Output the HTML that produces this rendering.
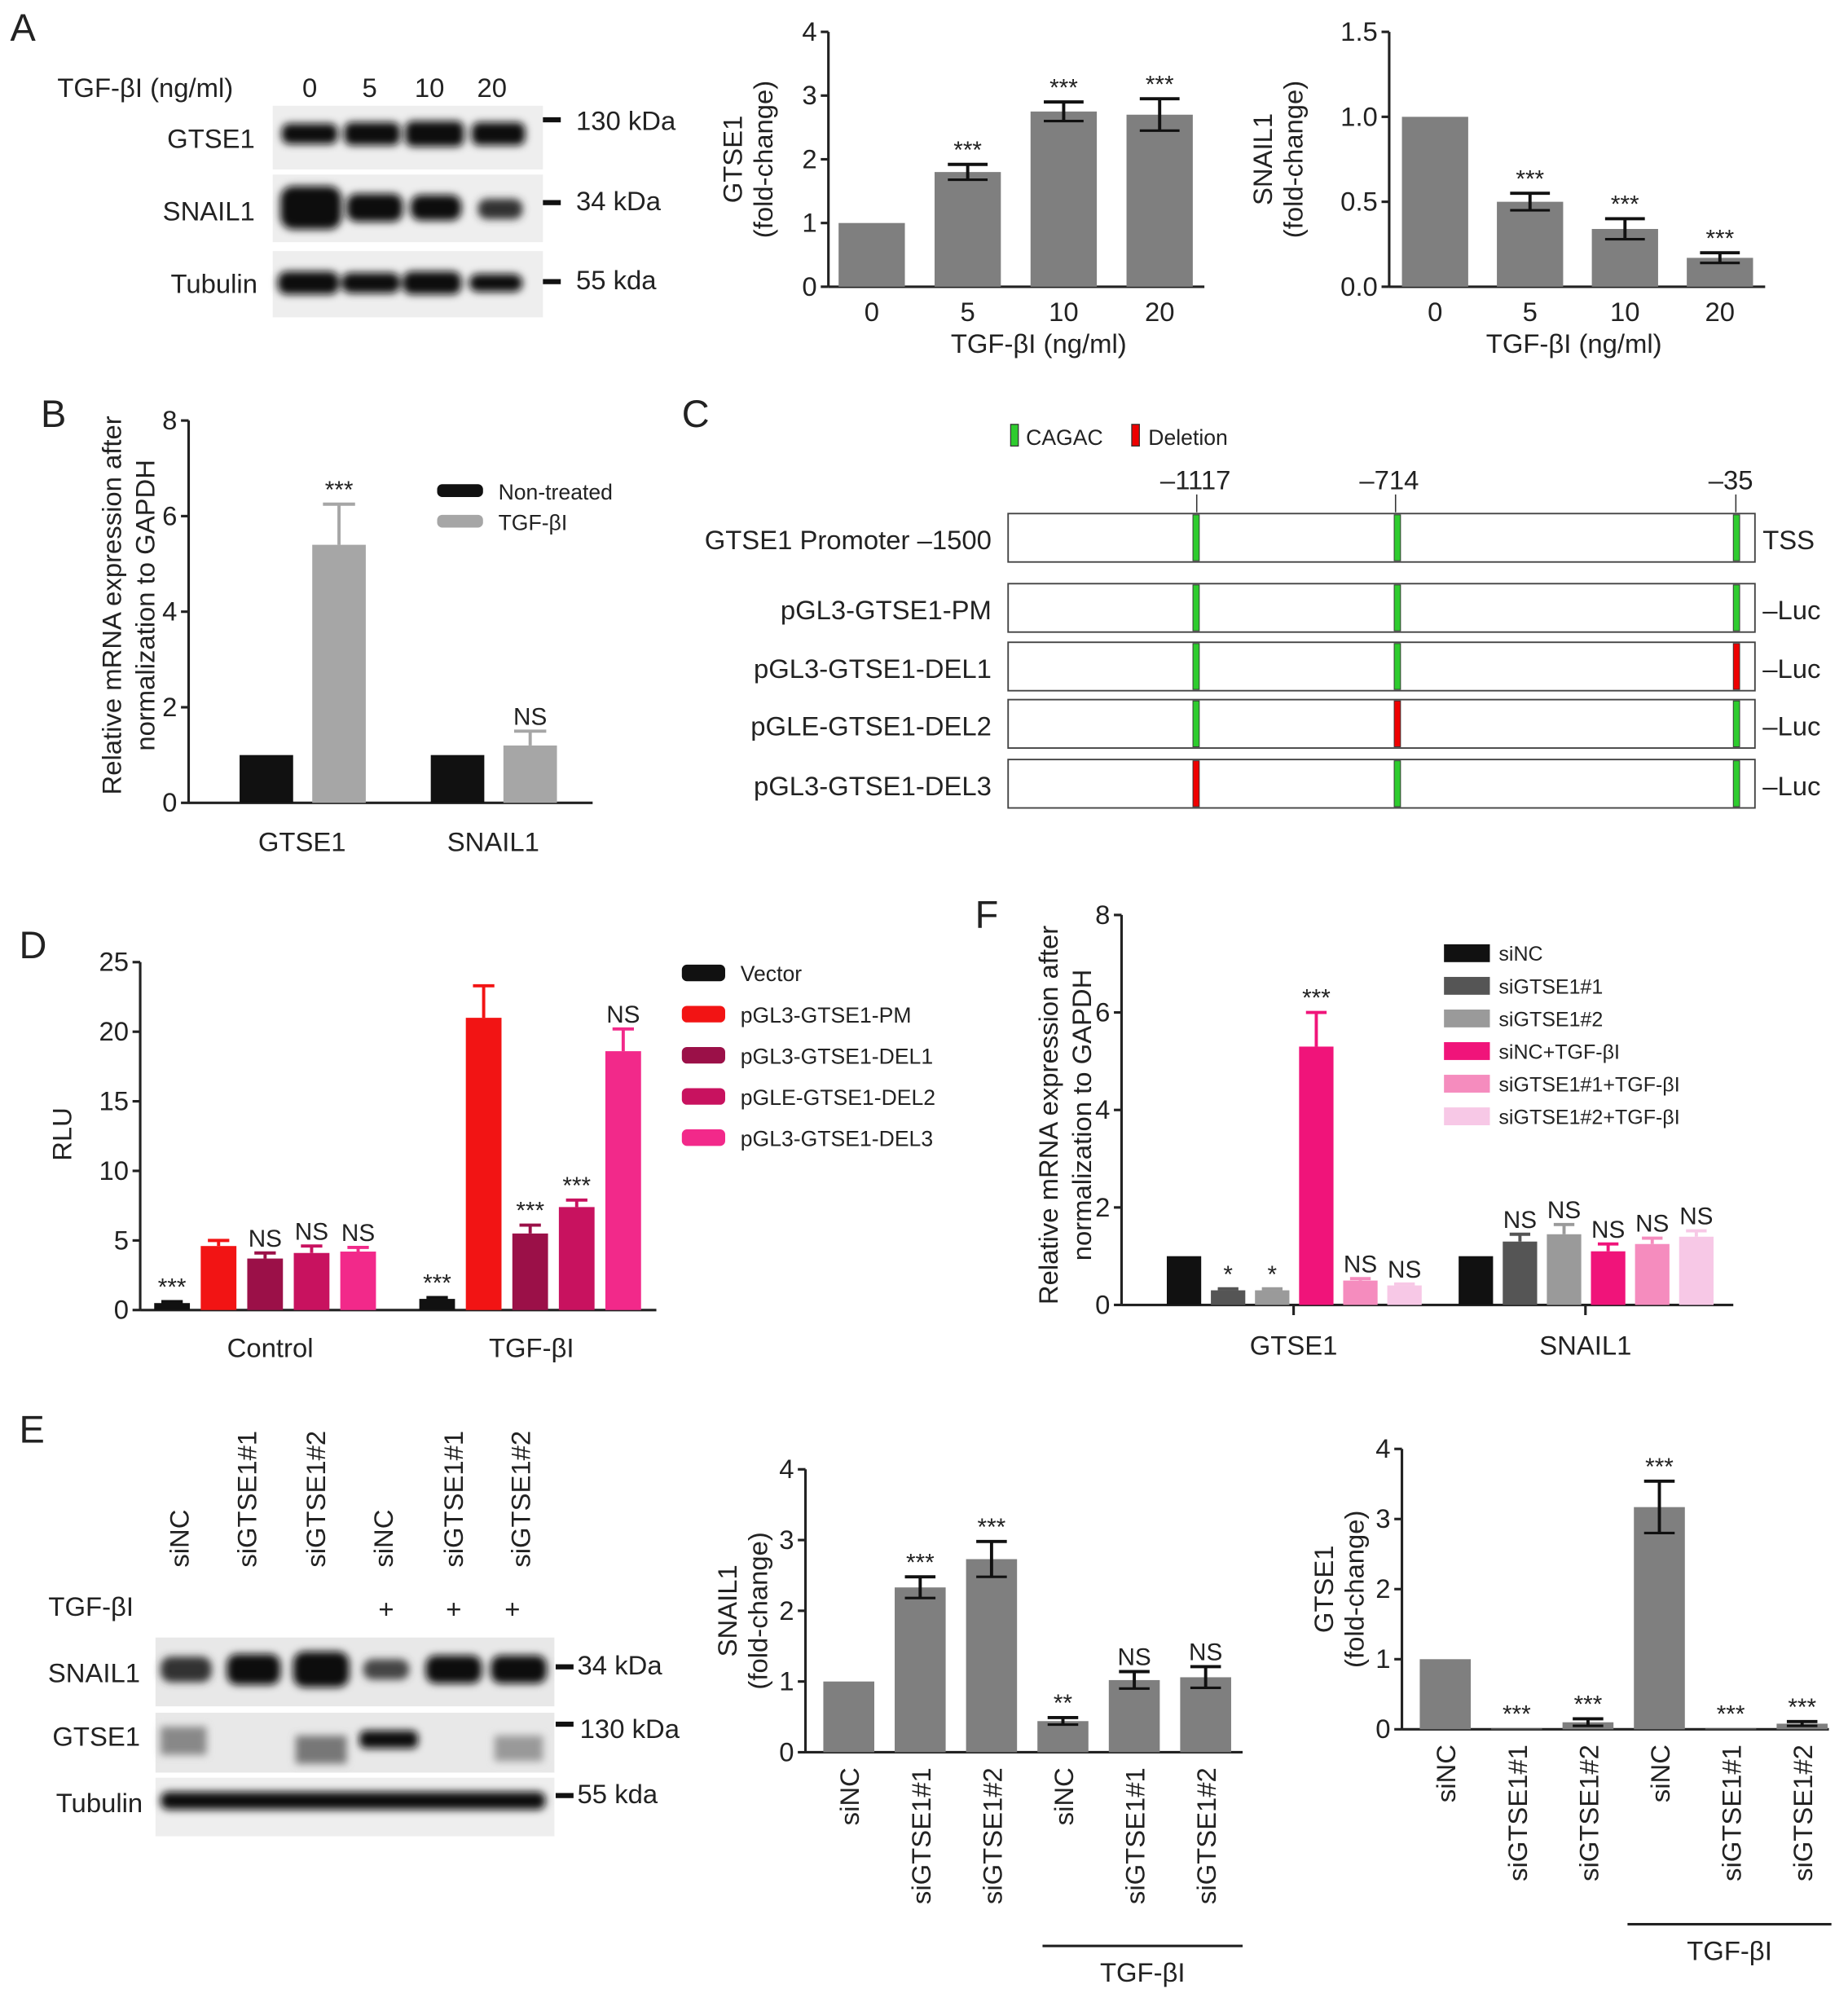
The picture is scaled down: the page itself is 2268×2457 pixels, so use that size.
<!DOCTYPE html>
<html><head><meta charset="utf-8">
<style>
html,body{margin:0;padding:0;background:#fff;}
svg{display:block;font-family:"Liberation Sans",sans-serif;}
</style></head>
<body>
<svg id="fig" xmlns="http://www.w3.org/2000/svg" width="2268" height="2457" viewBox="0 0 1450 1571" preserveAspectRatio="none">
<defs>
<filter id="blur" x="-20%" y="-50%" width="140%" height="200%"><feGaussianBlur stdDeviation="3"/></filter>
</defs>
<g id="static" font-size="21" fill="#222">
<text x="8" y="32" font-size="30">A</text>
<text x="32" y="335" font-size="30">B</text>
<text x="535" y="335" font-size="30">C</text>
<text x="15" y="752" font-size="30">D</text>
<text x="15" y="1132" font-size="30">E</text>
<text x="765" y="728" font-size="30">F</text>

<g>
<text x="45" y="76" font-size="21">TGF-βI (ng/ml)</text>
<text x="243" y="76" text-anchor="middle">0</text><text x="290" y="76" text-anchor="middle">5</text>
<text x="337" y="76" text-anchor="middle">10</text><text x="386" y="76" text-anchor="middle">20</text>
<rect x="214" y="83" width="212" height="50" fill="#eee"/>
<rect x="214" y="137" width="212" height="53" fill="#eee"/>
<rect x="214" y="197" width="212" height="52" fill="#eee"/>
<g filter="url(#blur)" fill="#111">
<rect x="221" y="97" width="44" height="16" rx="6"/><rect x="270" y="96" width="44" height="18" rx="6"/>
<rect x="318" y="95" width="46" height="20" rx="6"/><rect x="370" y="96" width="42" height="18" rx="6"/>
<rect x="220" y="146" width="48" height="34" rx="10"/><rect x="272" y="152" width="44" height="22" rx="8"/>
<rect x="322" y="153" width="40" height="20" rx="8"/><rect x="375" y="156" width="35" height="16" rx="7" fill="#333"/>
<rect x="218" y="213" width="48" height="18" rx="7"/><rect x="268" y="214" width="46" height="16" rx="7"/>
<rect x="316" y="213" width="46" height="18" rx="7"/><rect x="368" y="215" width="42" height="14" rx="7"/>
</g>
<text x="200" y="116" text-anchor="end">GTSE1</text>
<text x="200" y="173" text-anchor="end">SNAIL1</text>
<text x="202" y="230" text-anchor="end">Tubulin</text>
<rect x="426" y="92" width="14" height="4" fill="#111"/><text x="452" y="102">130 kDa</text>
<rect x="426" y="157" width="14" height="4" fill="#111"/><text x="452" y="165">34 kDa</text>
<rect x="426" y="219" width="14" height="4" fill="#111"/><text x="452" y="227">55 kda</text>
</g>

<g>
<g font-size="21">
<text transform="translate(148,1230) rotate(-90)">siNC</text>
<text transform="translate(201,1230) rotate(-90)">siGTSE1#1</text>
<text transform="translate(255,1230) rotate(-90)">siGTSE1#2</text>
<text transform="translate(308,1230) rotate(-90)">siNC</text>
<text transform="translate(363,1230) rotate(-90)">siGTSE1#1</text>
<text transform="translate(416,1230) rotate(-90)">siGTSE1#2</text>
</g>
<text x="38" y="1268">TGF-βI</text>
<text x="303" y="1270" text-anchor="middle">+</text><text x="356" y="1270" text-anchor="middle">+</text><text x="402" y="1270" text-anchor="middle">+</text>
<rect x="122" y="1285" width="313" height="54" fill="#e8e8e8"/>
<rect x="122" y="1344" width="313" height="47" fill="#e8e8e8"/>
<rect x="122" y="1395" width="313" height="46" fill="#eee"/>
<g filter="url(#blur)" fill="#111">
<rect x="126" y="1300" width="40" height="20" rx="8" fill="#333"/><rect x="178" y="1298" width="42" height="24" rx="8"/>
<rect x="230" y="1296" width="44" height="28" rx="9"/><rect x="285" y="1302" width="36" height="16" rx="7" fill="#444"/>
<rect x="334" y="1299" width="44" height="22" rx="8"/><rect x="385" y="1299" width="44" height="22" rx="8"/>
<rect x="126" y="1355" width="36" height="22" fill="#888"/><rect x="232" y="1362" width="40" height="22" fill="#777"/>
<rect x="282" y="1358" width="46" height="14" rx="5"/><rect x="388" y="1362" width="38" height="20" fill="#999"/>
<rect x="126" y="1406" width="302" height="14" rx="6"/>
</g>
<text x="110" y="1320" text-anchor="end">SNAIL1</text>
<text x="110" y="1370" text-anchor="end">GTSE1</text>
<text x="112" y="1422" text-anchor="end">Tubulin</text>
<rect x="436" y="1306" width="14" height="4" fill="#111"/><text x="453" y="1314">34 kDa</text>
<rect x="436" y="1351" width="14" height="4" fill="#111"/><text x="455" y="1364">130 kDa</text>
<rect x="436" y="1407" width="14" height="4" fill="#111"/><text x="453" y="1415">55 kda</text>
</g>

<g font-size="21">
<rect x="793" y="333" width="6" height="17" fill="#2ecc2e" stroke="#333" stroke-width="0.8"/>
<text x="805" y="349" font-size="17">CAGAC</text>
<rect x="888" y="333" width="6" height="17" fill="#e00" stroke="#333" stroke-width="0.8"/>
<text x="901" y="349" font-size="17">Deletion</text>
<text x="938" y="384" text-anchor="middle">–1117</text>
<text x="1090" y="384" text-anchor="middle">–714</text>
<text x="1358" y="384" text-anchor="middle">–35</text>
<line x1="939" y1="388" x2="939" y2="402" stroke="#333"/>
<line x1="1095" y1="388" x2="1095" y2="402" stroke="#333"/>
<line x1="1362" y1="388" x2="1362" y2="402" stroke="#333"/>
</g>
</g>
<g id="dyn"></g>
</svg>
<script>
const aLanes = ['0','5','10','20'];
const aGtse1 = [1, 1.8, 2.75, 2.7];
const aGtse1Err = [0, 0.12, 0.15, 0.25];
const aGtse1Sig = ['', '***', '***', '***'];
const aGtse1Ticks = [0,1,2,3,4];
const aSnail = [1, 0.5, 0.34, 0.17];
const aSnailErr = [0, 0.05, 0.06, 0.03];
const aSnailSig = ['', '***', '***', '***'];
const aSnailTicks = ['0.0','0.5','1.0','1.5'];

const bGroups = ['GTSE1','SNAIL1'];
const bNonTreated = [1, 1];
const bTgf = [5.4, 1.2];
const bTgfErr = [0.85, 0.3];
const bSig = ['***','NS'];
const bTicks = [0,2,4,6,8];

const cRows = ['GTSE1 Promoter –1500','pGL3-GTSE1-PM','pGL3-GTSE1-DEL1','pGLE-GTSE1-DEL2','pGL3-GTSE1-DEL3'];
const cSites = [-1117, -714, -35];
const cDeleted = [-1, -1, 2, 1, 0];

const dGroups = ['Control','TGF-βI'];
const dSeries = ['Vector','pGL3-GTSE1-PM','pGL3-GTSE1-DEL1','pGLE-GTSE1-DEL2','pGL3-GTSE1-DEL3'];
const dControl = [0.5, 4.6, 3.7, 4.1, 4.2];
const dControlErr = [0.1, 0.4, 0.4, 0.5, 0.3];
const dControlSig = ['***','','NS','NS','NS'];
const dTgf = [0.8, 21, 5.5, 7.4, 18.6];
const dTgfErr = [0.1, 2.3, 0.6, 0.5, 1.6];
const dTgfSig = ['***','','***','***','NS'];
const dTicks = [0,5,10,15,20,25];

const eLanes = ['siNC','siGTSE1#1','siGTSE1#2','siNC','siGTSE1#1','siGTSE1#2'];
const eSnail = [1, 2.33, 2.73, 0.44, 1.02, 1.06];
const eSnailErr = [0, 0.15, 0.25, 0.05, 0.12, 0.15];
const eSnailSig = ['','***','***','**','NS','NS'];
const eGtse1 = [1, 0.01, 0.1, 3.17, 0.01, 0.08];
const eGtse1Err = [0, 0, 0.05, 0.37, 0, 0.03];
const eGtse1Sig = ['','***','***','***','***','***'];
const eTicks = [0,1,2,3,4];

const fGroups = ['GTSE1','SNAIL1'];
const fSeries = ['siNC','siGTSE1#1','siGTSE1#2','siNC+TGF-βI','siGTSE1#1+TGF-βI','siGTSE1#2+TGF-βI'];
const fGtse1 = [1, 0.3, 0.3, 5.3, 0.5, 0.4];
const fGtse1Err = [0, 0.03, 0.03, 0.7, 0.04, 0.03];
const fGtse1Sig = ['','*','*','***','NS','NS'];
const fSnail = [1, 1.3, 1.45, 1.1, 1.25, 1.4];
const fSnailErr = [0, 0.15, 0.2, 0.15, 0.12, 0.12];
const fSnailSig = ['','NS','NS','NS','NS','NS'];
const fTicks = [0,2,4,6,8];

const NS='http://www.w3.org/2000/svg';
const root=document.getElementById('dyn');
function mk(tag,attrs,parent,text){const e=document.createElementNS(NS,tag);for(const k in attrs)e.setAttribute(k,attrs[k]);if(text!==undefined)e.textContent=text;(parent||root).appendChild(e);return e;}
function linScale(d0,d1,r0,r1){return v=>r0+(v-d0)/(d1-d0)*(r1-r0);}
function axes(g,x0,x1,yTop,yBot,ticks,ys){
  mk('line',{x1:x0,y1:yTop,x2:x0,y2:yBot,stroke:'#222','stroke-width':2},g);
  mk('line',{x1:x0,y1:yBot,x2:x1,y2:yBot,stroke:'#222','stroke-width':2},g);
  ticks.forEach(t=>{const y=ys(parseFloat(t));
    mk('line',{x1:x0-6,y1:y,x2:x0,y2:y,stroke:'#222','stroke-width':2},g);
    const tx=mk('text',{x:x0-9,y:y+7,'text-anchor':'end','font-size':21,fill:'#222'},g,String(t));
    
    
  });
}
function bar(g,cx,w,v,err,ys,fill,sig,name,sym){
  const y0=ys(0),y=ys(v);
  const r=mk('rect',{x:cx-w/2,y:Math.min(y,y0),width:w,height:Math.abs(y0-y),fill:fill},g);
  
  
  let top=y;
  const ec=sym?'#111':fill;
  if(err>0){const ye=ys(v+err);
    mk('line',{x1:cx,y1:sym?ys(v-err):y,x2:cx,y2:ye,stroke:ec,'stroke-width':2.5},g);
    mk('line',{x1:cx-w*0.3,y1:ye,x2:cx+w*0.3,y2:ye,stroke:ec,'stroke-width':2.5},g);
    if(sym)mk('line',{x1:cx-w*0.3,y1:ys(v-err),x2:cx+w*0.3,y2:ys(v-err),stroke:'#111','stroke-width':2},g);
    top=ye;}
  if(sig){const t=mk('text',{x:cx,y:top-5,'text-anchor':'middle','font-size':19,fill:'#222'},g,sig);
    
    }
}
function ytitle(g,x,y,lines,gap){lines.forEach((l,i)=>{mk('text',{transform:`translate(${x+i*gap},${y}) rotate(-90)`,'text-anchor':'middle','font-size':21,fill:'#222'},g,l);});}

{const g=mk('g',{});
 const ys=linScale(0,4,225,25);axes(g,650,945,25,225,aGtse1Ticks,ys);
 aGtse1.forEach((v,i)=>{const cx=684+i*75.3;bar(g,cx,52,v,aGtse1Err[i],ys,'#7f7f7f',aGtse1Sig[i],'bar-'+aLanes[i],true);
   mk('text',{x:cx,y:252,'text-anchor':'middle','font-size':21,fill:'#222'},g,aLanes[i]);});
 mk('text',{x:815,y:277,'text-anchor':'middle','font-size':21,fill:'#222'},g,'TGF-βI (ng/ml)');
 ytitle(g,582,125,['GTSE1','(fold-change)'],24);}
{const g=mk('g',{});
 const ys=linScale(0,1.5,225,25);axes(g,1090,1385,25,225,aSnailTicks,ys);
 aSnail.forEach((v,i)=>{const cx=1126+i*74.5;bar(g,cx,52,v,aSnailErr[i],ys,'#7f7f7f',aSnailSig[i],'bar-'+aLanes[i],true);
   mk('text',{x:cx,y:252,'text-anchor':'middle','font-size':21,fill:'#222'},g,aLanes[i]);});
 mk('text',{x:1235,y:277,'text-anchor':'middle','font-size':21,fill:'#222'},g,'TGF-βI (ng/ml)');
 ytitle(g,998,125,['SNAIL1','(fold-change)'],24);}
{const g=mk('g',{});
 const ys=linScale(0,8,630,330);axes(g,148,465,330,630,bTicks,ys);
 bGroups.forEach((grp,i)=>{const base=209+i*150;
   bar(g,base,42,bNonTreated[i],0,ys,'#111','','bar-nontreated-'+grp,false);
   bar(g,base+57,42,bTgf[i],bTgfErr[i],ys,'#a6a6a6',bSig[i],'bar-tgf-'+grp,false);
   mk('text',{x:base+28,y:668,'text-anchor':'middle','font-size':21,fill:'#222'},g,grp);});
 ytitle(g,95,475,['Relative mRNA expression after','normalization to GAPDH'],26);
 const l1=mk('g',{},g);
 mk('rect',{x:343,y:380,width:36,height:10,rx:4,fill:'#111'},l1);mk('text',{x:391,y:392,'font-size':17,fill:'#222'},l1,'Non-treated');
 const l2=mk('g',{},g);
 mk('rect',{x:343,y:404,width:36,height:10,rx:4,fill:'#a6a6a6'},l2);mk('text',{x:391,y:416,'font-size':17,fill:'#222'},l2,'TGF-βI');}
{const g=mk('g',{});
 const xs=linScale(-1117,-35,937,1361);
 const rowY=[403,458,504,549,596];
 cRows.forEach((r,i)=>{const y=rowY[i];
   const rect=mk('rect',{x:791,y:y,width:586,height:38,fill:'#fff',stroke:'#444','stroke-width':1.2},g);
   
   
   cSites.forEach((s,j)=>{mk('rect',{x:xs(s)-1,y:y+1,width:5,height:36,fill:cDeleted[i]===j?'#e00':'#2ecc2e',stroke:'#333','stroke-width':0.6},g);});
   mk('text',{x:778,y:y+28,'text-anchor':'end','font-size':21,fill:'#222'},g,r);
   mk('text',{x:1383,y:y+28,'font-size':21,fill:'#222'},g,i===0?'TSS':'–Luc');});}
const dColors=['#111','#f21414','#9b1048','#c8125f','#f2298a'];
{const g=mk('g',{});
 const ys=linScale(0,25,1028,755);axes(g,110,515,755,1028,dTicks,ys);
 [[dControl,dControlErr,dControlSig,135],[dTgf,dTgfErr,dTgfSig,343]].forEach(([vals,errs,sigs,st],gi)=>{
   vals.forEach((v,i)=>bar(g,st+i*36.5,28,v,errs[i],ys,dColors[i],sigs[i],'bar-'+dGroups[gi]+'-'+i,false));
   mk('text',{x:gi?417:212,y:1065,'text-anchor':'middle','font-size':21,fill:'#222'},g,dGroups[gi]);});
 ytitle(g,56,890,['RLU'],0);
 dSeries.forEach((s,i)=>{const l=mk('g',{},g);
   mk('rect',{x:535,y:757+i*32.3,width:34,height:13,rx:4,fill:dColors[i]},l);
   mk('text',{x:581,y:770+i*32.3,'font-size':17,fill:'#222'},l,s);});}
const fColors=['#111','#555','#9a9a9a','#f0147a','#f58cbe','#f7c8e6'];
{const g=mk('g',{});
 const ys=linScale(0,8,1024,718);axes(g,880,1360,718,1024,fTicks,ys);
 [[fGtse1,fGtse1Err,fGtse1Sig,929],[fSnail,fSnailErr,fSnailSig,1158]].forEach(([vals,errs,sigs,st],gi)=>{
   vals.forEach((v,i)=>bar(g,st+i*34.6,27,v,errs[i],ys,fColors[i],sigs[i],'bar-'+fGroups[gi]+'-'+i,false));
   mk('line',{x1:st+86,y1:1024,x2:st+86,y2:1032,stroke:'#222','stroke-width':2},g);
   mk('text',{x:st+86,y:1063,'text-anchor':'middle','font-size':21,fill:'#222'},g,fGroups[gi]);});
 ytitle(g,830,875,['Relative mRNA expression after','normalization to GAPDH'],26);
 fSeries.forEach((s,i)=>{const l=mk('g',{},g);
   mk('rect',{x:1133,y:741+i*25.6,width:36,height:14,fill:fColors[i]},l);
   mk('text',{x:1176,y:754+i*25.6,'font-size':16,fill:'#222'},l,s);});}
function eChart(name,vals,errs,sigs,x0,yTop,yBot,x1,title,lineX0,lineX1,lineY){
 const g=mk('g',{});
 const ys=linScale(0,4,yBot,yTop);axes(g,x0,x1,yTop,yBot,eTicks,ys);
 vals.forEach((v,i)=>{const cx=x0+34+i*56;bar(g,cx,40,v,errs[i],ys,'#7f7f7f',sigs[i],'bar-'+i,true);
   mk('text',{transform:`translate(${cx+8},${yBot+12}) rotate(-90)`,'text-anchor':'end','font-size':21,fill:'#222'},g,eLanes[i]);});
 mk('line',{x1:lineX0,y1:lineY,x2:lineX1,y2:lineY,stroke:'#222','stroke-width':2},g);
 mk('text',{x:(lineX0+lineX1)/2,y:lineY+28,'text-anchor':'middle','font-size':21,fill:'#222'},g,'TGF-βI');
 ytitle(g,x0-54,(yTop+yBot)/2,[title,'(fold-change)'],24);}
eChart('chart-e-snail1',eSnail,eSnailErr,eSnailSig,632,1153,1375,975,'SNAIL1',818,975,1527);
eChart('chart-e-gtse1',eGtse1,eGtse1Err,eGtse1Sig,1100,1137,1357,1435,'GTSE1',1277,1437,1510);
</script>
</body></html>
